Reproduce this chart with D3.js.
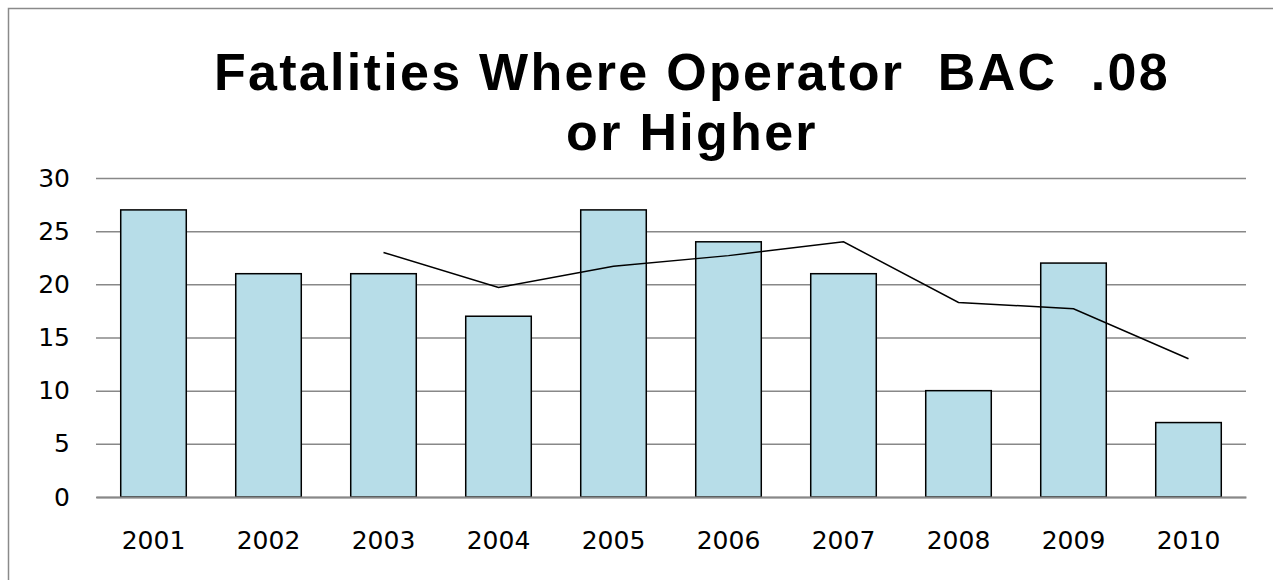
<!DOCTYPE html>
<html>
<head>
<meta charset="utf-8">
<script src="https://cdn.jsdelivr.net/npm/d3@7"></script>
<style>
  html, body { margin: 0; padding: 0; background: #fff; }
  svg { display: block; }
</style>
</head>
<body>
<svg id="chart" width="1273" height="580"></svg>
<script>
const years = ["2001","2002","2003","2004","2005","2006","2007","2008","2009","2010"];
const fatalities = [27, 21, 21, 17, 27, 24, 21, 10, 22, 7];
const trendYears = ["2003","2004","2005","2006","2007","2008","2009","2010"];
const trendValues = [23, 19.7, 21.7, 22.7, 24, 18.3, 17.7, 13];
const yTicks = [0, 5, 10, 15, 20, 25, 30];
const titleLines = ["Fatalities Where Operator  BAC  .08", "or Higher"];

const svg = d3.select("#chart");
const W = 1273, H = 580;
const m = { left: 96, right: 1246, top: 178, bottom: 497 };

// outer frame
svg.append("rect")
  .attr("x", 8.5).attr("y", 8.5)
  .attr("width", W + 20).attr("height", H + 20)
  .attr("fill", "#fff").attr("stroke", "#8a8a8a").attr("stroke-width", 1.5);

const x = d3.scaleBand().domain(years).range([m.left, m.right]).paddingInner(0.43).paddingOuter(0.215);
const xc = d3.scaleBand().domain(years).range([m.left, m.right]);
const y = d3.scaleLinear().domain([0, 30]).range([m.bottom, m.top]);

const labelFont = "'DejaVu Sans', Verdana, sans-serif";

// gridlines + y labels
const yAxis = d3.axisLeft(y).tickValues(yTicks).tickSize(-(m.right - m.left)).tickPadding(26);
const gy = svg.append("g").attr("transform", `translate(${m.left},0)`).call(yAxis);
gy.select(".domain").remove();
gy.selectAll(".tick line").attr("stroke", "#888").attr("stroke-width", 1.5);
gy.selectAll(".tick text")
  .attr("fill", "#000")
  .style("font-family", labelFont)
  .style("font-size", "25px");

// bars
svg.append("g").selectAll("rect")
  .data(years.map((yr, i) => ({ yr, v: fatalities[i] })))
  .join("rect")
  .attr("x", d => x(d.yr))
  .attr("y", d => y(d.v))
  .attr("width", x.bandwidth())
  .attr("height", d => y(0) - y(d.v))
  .attr("fill", "#B7DDE8")
  .attr("stroke", "#000")
  .attr("stroke-width", 1.5);

// x axis baseline
const xAxis = d3.axisBottom(xc).tickSize(0).tickPadding(34);
const gx = svg.append("g").attr("transform", `translate(0,${m.bottom})`).call(xAxis);
gx.select(".domain").attr("stroke", "#888").attr("stroke-width", 2);
gx.selectAll(".tick text")
  .attr("fill", "#000")
  .style("font-family", labelFont)
  .style("font-size", "25px");

// trend line
const line = d3.line()
  .x(d => xc(d.yr) + xc.bandwidth() / 2)
  .y(d => y(d.v));
svg.append("path")
  .datum(trendYears.map((yr, i) => ({ yr, v: trendValues[i] })))
  .attr("d", line)
  .attr("fill", "none")
  .attr("stroke", "#000")
  .attr("stroke-width", 1.5);

// title
const title = svg.append("text")
  .attr("x", 692)
  .attr("text-anchor", "middle")
  .style("font-family", "'Liberation Sans', Arial, sans-serif")
  .style("font-weight", "bold")
  .style("font-size", "52px")
  .style("letter-spacing", "2.3px")
  .style("white-space", "pre")
  .attr("xml:space", "preserve");
title.selectAll("tspan").data(titleLines).join("tspan")
  .attr("x", 692)
  .attr("y", (d, i) => 90 + i * 60)
  .text(d => d);
</script>
</body>
</html>
